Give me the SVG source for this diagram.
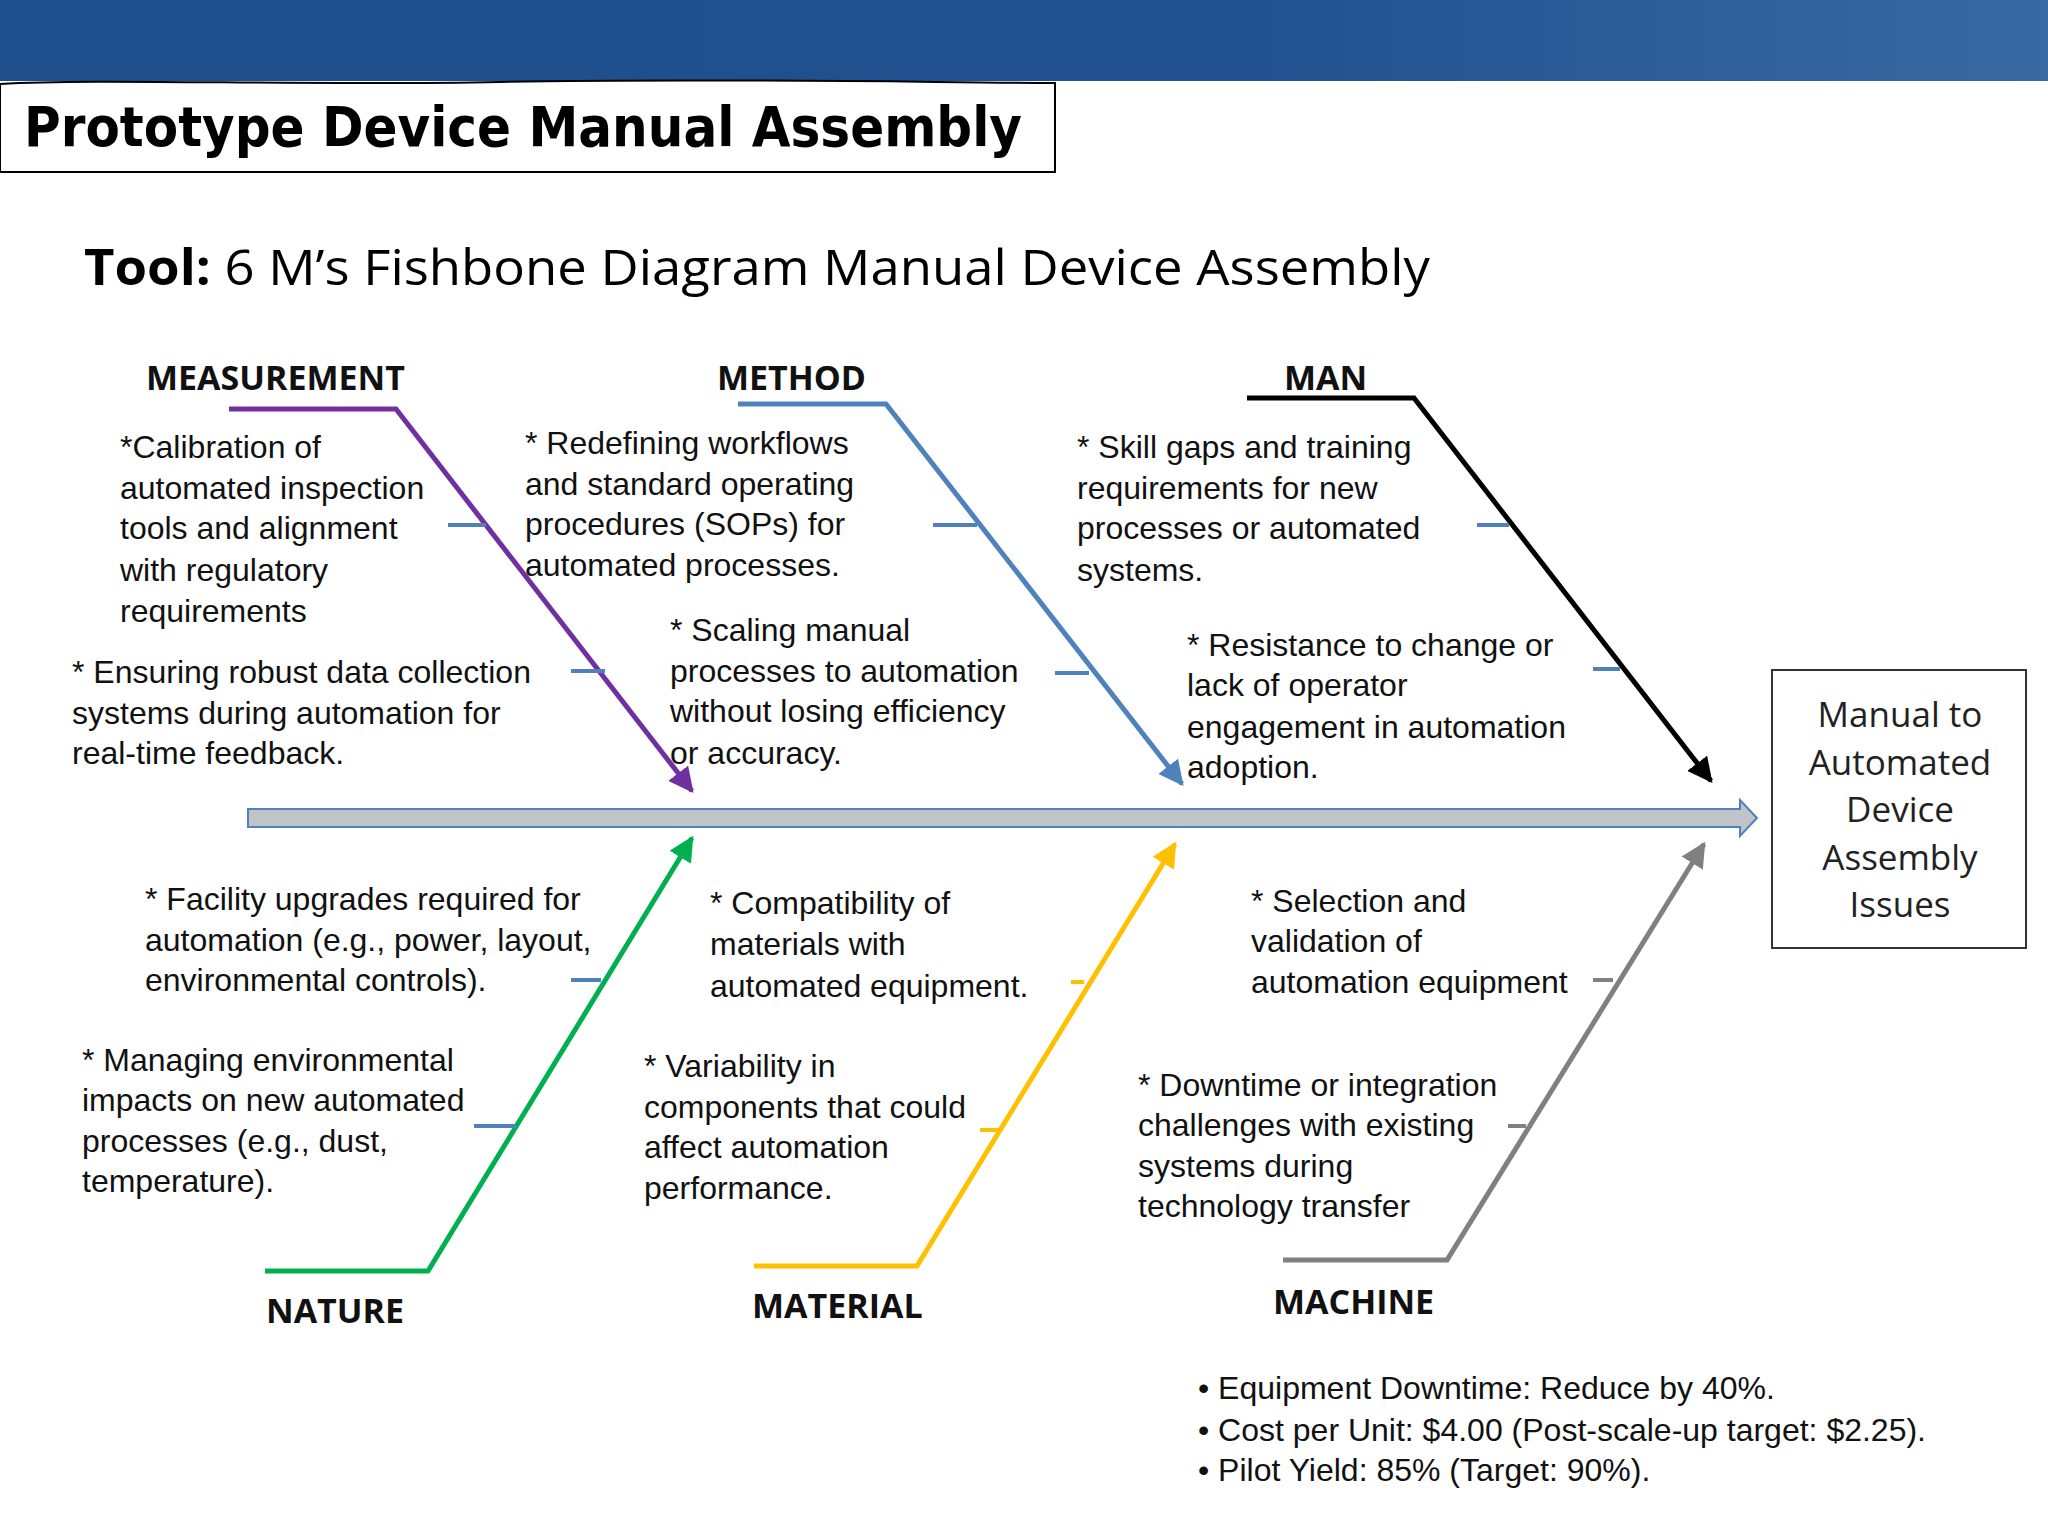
<svg xmlns="http://www.w3.org/2000/svg" width="2048" height="1536" viewBox="0 0 2048 1536">
<defs>
<linearGradient id="bn" x1="0" x2="1" y1="0" y2="0"><stop offset="0" stop-color="#1f4e8c"/><stop offset="0.6" stop-color="#20508f"/><stop offset="1" stop-color="#3a6aa3"/></linearGradient>
<marker id="ap" viewBox="0 0 10 10" refX="9" refY="5" markerWidth="5" markerHeight="5" orient="auto"><path d="M0,0L10,5L0,10z" fill="#7030a0"/></marker>
<marker id="ab" viewBox="0 0 10 10" refX="9" refY="5" markerWidth="5" markerHeight="5" orient="auto"><path d="M0,0L10,5L0,10z" fill="#4f81bd"/></marker>
<marker id="ak" viewBox="0 0 10 10" refX="9" refY="5" markerWidth="5" markerHeight="5" orient="auto"><path d="M0,0L10,5L0,10z" fill="#000"/></marker>
<marker id="ag" viewBox="0 0 10 10" refX="9" refY="5" markerWidth="5" markerHeight="5" orient="auto"><path d="M0,0L10,5L0,10z" fill="#00b050"/></marker>
<marker id="ay" viewBox="0 0 10 10" refX="9" refY="5" markerWidth="5" markerHeight="5" orient="auto"><path d="M0,0L10,5L0,10z" fill="#ffc000"/></marker>
<marker id="ar" viewBox="0 0 10 10" refX="9" refY="5" markerWidth="5" markerHeight="5" orient="auto"><path d="M0,0L10,5L0,10z" fill="#808080"/></marker>
</defs>
<style>
.t{font-family:"Liberation Sans",Arial,sans-serif;font-size:32px;fill:#111}
.h{font-family:"Open Sans","Liberation Sans",sans-serif;font-size:34px;font-weight:bold;fill:#111}
.b{fill:none;stroke-width:5}
.k{stroke:#4f81bd;stroke-width:4}
</style>
<rect width="2048" height="1536" fill="#fff"/>
<rect width="2048" height="81" fill="url(#bn)"/>
<path d="M0,84 C100,78 300,86 500,82 C700,78 900,82 1055,83 L1055,172 L0,172 Z" fill="#fff" stroke="#000" stroke-width="2"/>
<text x="24" y="146" font-family="'DejaVu Sans',Verdana,sans-serif" font-weight="bold" font-size="56" textLength="998" lengthAdjust="spacingAndGlyphs" fill="#000">Prototype Device Manual Assembly</text>
<text x="84" y="285" font-family="'Open Sans','Liberation Sans',sans-serif" font-size="50" textLength="1346" lengthAdjust="spacingAndGlyphs" fill="#000"><tspan font-weight="bold">Tool:</tspan> 6 M’s Fishbone Diagram Manual Device Assembly</text>

<g id="connectors">
<path d="M248,809 L1740,809 L1740,800 L1757,818 L1740,836 L1740,827 L248,827 Z" fill="#c0c4c8" stroke="#4f81bd" stroke-width="2"/>
<polyline class="b" stroke="#7030a0" points="229,409 396,409 692,791" marker-end="url(#ap)"/>
<polyline class="b" stroke="#4f81bd" points="738,404 886,404 1182,784" marker-end="url(#ab)"/>
<polyline class="b" stroke="#000" points="1247,398 1414,398 1711,781" marker-end="url(#ak)"/>
<polyline class="b" stroke="#00b050" points="265,1271 428,1271 692,838" marker-end="url(#ag)"/>
<polyline class="b" stroke="#ffc000" points="754,1266 917,1266 1175,844" marker-end="url(#ay)"/>
<polyline class="b" stroke="#808080" points="1283,1260 1447,1260 1704,844" marker-end="url(#ar)"/>
<line class="k" x1="448" y1="525" x2="486" y2="525"/><line class="k" x1="571" y1="671" x2="605" y2="671"/>
<line class="k" x1="933" y1="525" x2="977" y2="525"/><line class="k" x1="1055" y1="673" x2="1089" y2="673"/>
<line class="k" x1="1477" y1="525" x2="1509" y2="525"/><line class="k" x1="1593" y1="669" x2="1620" y2="669"/>
<line class="k" x1="571" y1="980" x2="601" y2="980"/><line class="k" x1="474" y1="1126" x2="516" y2="1126"/>
<line stroke="#ffc000" stroke-width="4" x1="1071" y1="982" x2="1084" y2="982"/><line stroke="#ffc000" stroke-width="4" x1="980" y1="1130" x2="999" y2="1130"/>
<line stroke="#808080" stroke-width="4" x1="1593" y1="980" x2="1613" y2="980"/><line stroke="#808080" stroke-width="4" x1="1508" y1="1126" x2="1526" y2="1126"/>
</g>

<g id="effect"><rect x="1772" y="670" width="254" height="278" fill="#fff" stroke="#333" stroke-width="2"/>
<g font-family="'Open Sans','Liberation Sans',sans-serif" font-size="35" fill="#222" text-anchor="middle"><text x="1900" y="727">Manual to</text><text x="1900" y="775">Automated</text><text x="1900" y="822">Device</text><text x="1900" y="870">Assembly</text><text x="1900" y="917">Issues</text></g></g>

<g id="measurement"><text class="h" x="146" y="390">MEASUREMENT</text>
<text class="t" x="120" y="458">*Calibration of</text><text class="t" x="120" y="499">automated inspection</text><text class="t" x="120" y="539">tools and alignment</text><text class="t" x="120" y="581">with regulatory</text><text class="t" x="120" y="622">requirements</text>
<text class="t" x="72" y="683">* Ensuring robust data collection</text><text class="t" x="72" y="724">systems during automation for</text><text class="t" x="72" y="764">real-time feedback.</text></g>

<g id="method"><text class="h" x="717" y="390">METHOD</text>
<text class="t" x="525" y="454">* Redefining workflows</text><text class="t" x="525" y="495">and standard operating</text><text class="t" x="525" y="535">procedures (SOPs) for</text><text class="t" x="525" y="576">automated processes.</text>
<text class="t" x="670" y="641">* Scaling manual</text><text class="t" x="670" y="682">processes to automation</text><text class="t" x="670" y="722">without losing efficiency</text><text class="t" x="670" y="764">or accuracy.</text></g>

<g id="man"><text class="h" x="1284" y="390">MAN</text>
<text class="t" x="1077" y="458">* Skill gaps and training</text><text class="t" x="1077" y="499">requirements for new</text><text class="t" x="1077" y="539">processes or automated</text><text class="t" x="1077" y="581">systems.</text>
<text class="t" x="1187" y="656">* Resistance to change or</text><text class="t" x="1187" y="696">lack of operator</text><text class="t" x="1187" y="738">engagement in automation</text><text class="t" x="1187" y="778">adoption.</text></g>

<g id="nature"><text class="h" x="266" y="1323">NATURE</text>
<text class="t" x="145" y="910">* Facility upgrades required for</text><text class="t" x="145" y="951">automation (e.g., power, layout,</text><text class="t" x="145" y="991">environmental controls).</text>
<text class="t" x="82" y="1071">* Managing environmental</text><text class="t" x="82" y="1111">impacts on new automated</text><text class="t" x="82" y="1152">processes (e.g., dust,</text><text class="t" x="82" y="1192">temperature).</text></g>

<g id="material"><text class="h" x="752" y="1318">MATERIAL</text>
<text class="t" x="710" y="914">* Compatibility of</text><text class="t" x="710" y="955">materials with</text><text class="t" x="710" y="997">automated equipment.</text>
<text class="t" x="644" y="1077">* Variability in</text><text class="t" x="644" y="1118">components that could</text><text class="t" x="644" y="1158">affect automation</text><text class="t" x="644" y="1199">performance.</text></g>

<g id="machine"><text class="h" x="1273" y="1314">MACHINE</text>
<text class="t" x="1251" y="912">* Selection and</text><text class="t" x="1251" y="952">validation of</text><text class="t" x="1251" y="993">automation equipment</text>
<text class="t" x="1138" y="1096">* Downtime or integration</text><text class="t" x="1138" y="1136">challenges with existing</text><text class="t" x="1138" y="1177">systems during</text><text class="t" x="1138" y="1217">technology transfer</text></g>

<g id="metrics"><text class="t" x="1198" y="1399">• Equipment Downtime: Reduce by 40%.</text><text class="t" x="1198" y="1441">• Cost per Unit: $4.00 (Post-scale-up target: $2.25).</text><text class="t" x="1198" y="1481">• Pilot Yield: 85% (Target: 90%).</text></g>
</svg>
